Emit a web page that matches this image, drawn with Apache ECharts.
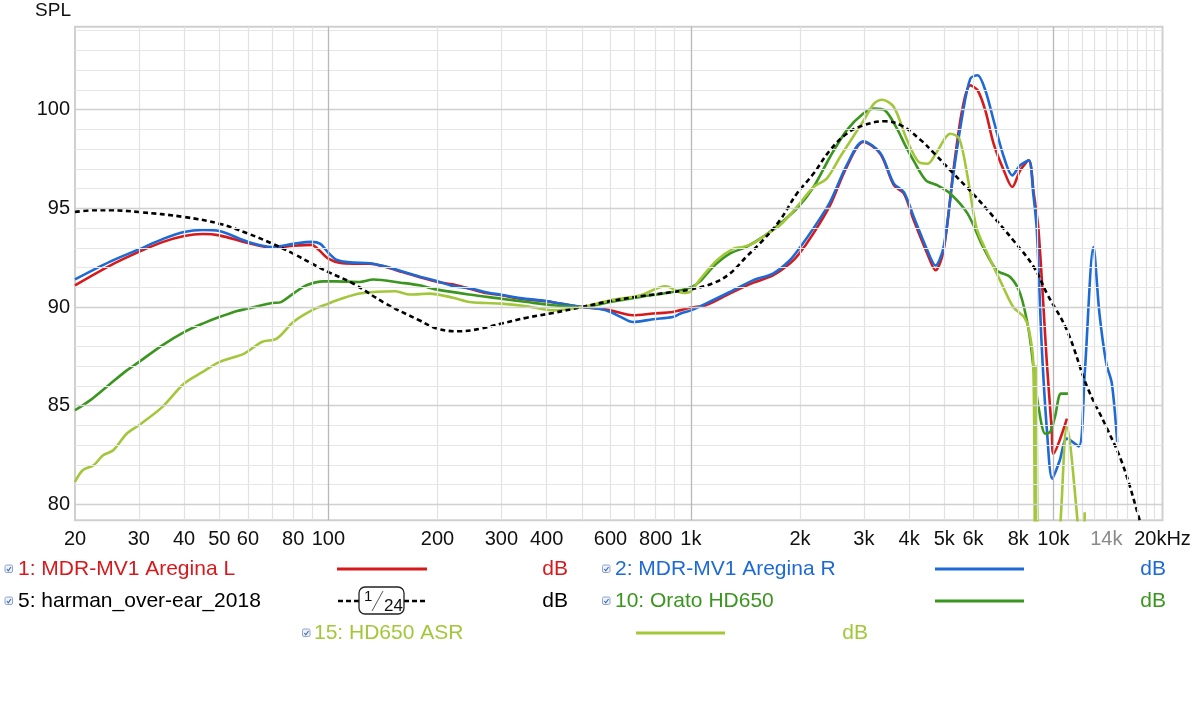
<!DOCTYPE html>
<html>
<head>
<meta charset="utf-8">
<script src="https://cdn.jsdelivr.net/npm/echarts@6/dist/echarts.min.js"></script>
<style>
html,body{margin:0;padding:0;background:#fff;}
#main{width:1200px;height:710px;}
</style>
</head>
<body>
<div id="main"></div>
<script>
// ---------- DATA ----------
// 1: MDR-MV1 Aregina L
const freqL = [20,25,30,35,40,45,50,60,70,80,90,94,100,108,117,130,144,160,178,200,220,245,272,300,338,400,436,500,562,600,692,786,891,1000,1100,1280,1483,1684,1875,1990,2176,2420,2690,2990,3330,3630,3870,4120,4490,4730,4980,5300,5600,5900,6180,6490,6840,7300,7700,8100,8550,8830,9100,9600,9900,10000,10900];
const splL  = [91.1,92.1,92.79,93.3,93.6,93.7,93.63,93.24,93.0,93.1,93.15,92.9,92.45,92.23,92.2,92.2,92.03,91.77,91.52,91.27,91.15,90.93,90.71,90.6,90.42,90.29,90.17,90.0,89.92,89.83,89.58,89.67,89.75,89.97,90.09,90.68,91.22,91.6,92.2,92.7,93.72,95.15,97.09,98.36,97.77,96.17,95.74,94.39,92.7,91.86,92.87,96.92,99.96,101.23,100.98,99.96,98.28,96.92,96.08,96.92,97.43,95.74,93.9,87.1,83.75,82.57,84.35];
// 2: MDR-MV1 Aregina R
const freqR = [20,25,30,35,40,45,50,60,70,80,90,95,100,105,110,117,130,144,160,178,200,220,245,272,300,338,400,436,500,562,600,640,692,786,891,937,1000,1100,1280,1483,1684,1875,1990,2176,2420,2690,2990,3330,3630,3870,4120,4490,4730,4980,5300,5600,5900,6180,6490,6840,7300,7700,8100,8550,8800,9000,9290,9600,9930,10400,10900,11750,12200,12900,13400,14000,14500,15000];
const splR  = [91.4,92.3,92.92,93.45,93.8,93.9,93.85,93.3,93.04,93.2,93.3,93.2,92.75,92.4,92.3,92.25,92.22,92.05,91.8,91.55,91.3,91.07,90.95,90.75,90.62,90.45,90.3,90.17,90.0,89.9,89.75,89.5,89.24,89.38,89.49,89.67,89.83,90.17,90.76,91.35,91.69,92.37,92.96,93.97,95.32,97.18,98.4,97.8,96.25,95.82,94.56,92.87,92.1,93.04,96.76,99.63,101.57,101.74,100.98,99.46,97.6,96.67,97.18,97.43,95.74,93.9,87.97,83.75,81.3,82.2,83.33,82.94,86.6,93.04,89.67,87.13,86.12,83.16];
// 5: harman_over-ear_2018
const freqH = [20,22.5,25,30,40,50,60,70,80,90,100,117,144,178,200,230,262,300,353,417,500,600,725,891,1000,1150,1280,1420,1580,1760,1960,2180,2420,2690,2990,3430,3800,4280,4700,5300,6000,6840,7750,8830,9600,10900,12400,14000,15500,17200,18000];
const splH  = [94.81,94.9,94.9,94.81,94.56,94.22,93.72,93.21,92.7,92.2,91.77,91.19,90.17,89.33,88.9,88.77,88.9,89.16,89.46,89.7,90.0,90.3,90.54,90.76,90.9,91.2,91.69,92.53,93.38,94.39,95.74,96.76,97.94,98.78,99.2,99.41,99.2,98.5,97.77,96.76,95.74,94.56,93.38,92.03,90.68,88.82,85.95,83.92,82.07,79.36,78.0];
// 10: Orato HD650
const freqG = [20,22,24.9,27.8,30,34.8,40,45,50,56,60,70,74,80,87,97,105,122,133,160,178,200,245,300,353,417,500,600,725,891,1000,1060,1150,1280,1420,1580,1760,1960,2180,2420,2690,2990,3200,3430,3700,3900,4120,4450,4780,5200,5800,6400,6980,7600,8100,8550,8830,9100,9500,9800,10100,10500,11000];
const splG  = [84.77,85.27,86.08,86.79,87.21,88.06,88.73,89.16,89.49,89.8,89.92,90.2,90.25,90.68,91.1,91.3,91.3,91.27,91.39,91.22,91.1,90.88,90.63,90.42,90.25,90.09,90.0,90.25,90.51,90.76,91.0,91.3,92.03,92.7,93.04,93.55,94.22,94.98,96.08,97.6,98.95,99.8,100.05,99.96,99.05,98.2,97.4,96.42,96.17,95.74,94.73,93.04,91.86,91.52,90.68,88.82,86.79,84.93,83.58,83.67,84.43,85.61,85.61];
// 15: HD650 ASR
const freqA = [20,21,22.5,23.9,25.5,27.8,30,34.8,40,45,50,58.6,65.5,72,80,90,100,108,122,153,168,190,221,245,272,300,353,417,500,600,725,850,955,1000,1060,1180,1310,1390,1480,1580,1760,1960,2180,2370,2580,2800,3000,3200,3370,3630,3950,4250,4500,4750,5200,5500,5800,6130,6580,7200,7750,8300,8550,8800,8900,8970,9200,10150,10900,11750,12050,12200];
const splA  = [81.14,81.73,81.98,82.49,82.74,83.59,84.01,84.93,86.12,86.71,87.21,87.64,88.23,88.4,89.24,89.83,90.17,90.4,90.68,90.8,90.63,90.68,90.47,90.25,90.2,90.17,90.04,89.83,90.0,90.34,90.59,91.05,90.71,90.8,91.4,92.37,92.96,93.04,93.21,93.55,94.14,95.07,96.08,96.5,97.6,98.61,99.46,100.3,100.5,100.13,98.44,97.35,97.26,97.8,98.78,98.53,96.59,94.05,92.7,91.18,90.0,89.49,88.9,87.2,77,87,76,76.5,83.9,78.5,76,79.6];

// axis ticks / labels
const xTickValues = [20,30,40,50,60,80,100,200,300,400,600,800,1000,2000,3000,4000,5000,6000,8000,10000,14000,20000];
const xTickLabels = ['20','30','40','50','60','80','100','200','300','400','600','800','1k','2k','3k','4k','5k','6k','8k','10k','14k','20kHz'];
const xGridMinor = [30,40,50,60,70,80,90,200,300,400,500,600,700,800,900,2000,3000,4000,5000,6000,7000,8000,9000,11000,12000,13000,14000,15000,16000,17000,18000,19000];
const xGridMajor = [100,1000,10000];
const yTickValues = [80,85,90,95,100];
const yGridMinor = [81,82,83,84,86,87,88,89,91,92,93,94,96,97,98,99,101,102,103,104];
const yGridMajor = [80,85,90,95,100];

const legendItems = [
  {label:'1: MDR-MV1 Aregina L', unit:'dB', color:'#d7191c'},
  {label:'2: MDR-MV1 Aregina R', unit:'dB', color:'#1d6ad6'},
  {label:'5: harman_over-ear_2018', unit:'dB', color:'#000000'},
  {label:'10: Orato HD650', unit:'dB', color:'#3b961f'},
  {label:'15: HD650 ASR', unit:'dB', color:'#a3c73a'}
];

// ---------- CHART ----------
const FONT = '"Liberation Sans", Arial, Helvetica, sans-serif';
const pairs = (f, v) => f.map((x, i) => [x, v[i]]);

const chart = echarts.init(document.getElementById('main'), null, {renderer:'canvas'});

function lineSeries(name, f, v, color, extra) {
  return Object.assign({
    name, type:'line', data: pairs(f, v), showSymbol:false, symbol:'none',
    smooth:0.3, clip:true, animation:false, silent:true,
    lineStyle:{color, width:2.6}, z:3
  }, extra || {});
}

const gridMarks = [];
xGridMinor.forEach(v => gridMarks.push({xAxis:v, lineStyle:{color:'#e2e2e2', width:1.2, type:'solid'}}));
yGridMinor.forEach(v => gridMarks.push({yAxis:v, lineStyle:{color:'#e6e6e6', width:1.2, type:'solid'}}));
yGridMajor.forEach(v => gridMarks.push({yAxis:v, lineStyle:{color:'#d0d0d0', width:1.3, type:'solid'}}));
xGridMajor.forEach(v => gridMarks.push({xAxis:v, lineStyle:{color:'#b8b8b8', width:1.3, type:'solid'}}));

// legend graphics
const graphics = [];
function checkbox(x, y) {
  graphics.push({type:'rect', shape:{x:x, y:y-4, width:7.5, height:7.5, r:1.5}, style:{fill:'#eef3fb', stroke:'#8ea6cc', lineWidth:1}});
  graphics.push({type:'polyline', shape:{points:[[x+1.8,y],[x+3.3,y+1.8],[x+6,y-2]]}, style:{stroke:'#3f66a8', lineWidth:1.1, fill:null}});
}
function text(x, y, str, color, align) {
  graphics.push({type:'text', x:x, y:y, style:{text:str, fill:color, font:'21px ' + FONT, textAlign:align||'left', textVerticalAlign:'middle'}});
}
function sample(x1, x2, y, color) {
  graphics.push({type:'line', shape:{x1, y1:y, x2, y2:y}, style:{stroke:color, lineWidth:3}});
}
const rowY = [569, 601, 633];
// item 1
checkbox(5, rowY[0]); text(18, rowY[0], legendItems[0].label, legendItems[0].color); sample(337, 427, rowY[0], legendItems[0].color); text(568, rowY[0], legendItems[0].unit, legendItems[0].color, 'right');
// item 2
checkbox(602.5, rowY[0]); text(615, rowY[0], legendItems[1].label, legendItems[1].color); sample(935, 1024, rowY[0], legendItems[1].color); text(1166, rowY[0], legendItems[1].unit, legendItems[1].color, 'right');
// item 5
checkbox(5, rowY[1]); text(18, rowY[1], legendItems[2].label, legendItems[2].color); text(568, rowY[1], legendItems[2].unit, legendItems[2].color, 'right');
graphics.push({type:'line', shape:{x1:338, y1:rowY[1], x2:359, y2:rowY[1]}, style:{stroke:'#000', lineWidth:2.6, lineDash:[5,3]}});
graphics.push({type:'line', shape:{x1:404, y1:rowY[1], x2:427, y2:rowY[1]}, style:{stroke:'#000', lineWidth:2.6, lineDash:[5,3]}});
graphics.push({type:'rect', shape:{x:359, y:587, width:45, height:27, r:6}, style:{fill:'#fff', stroke:'#222', lineWidth:1.3}});
graphics.push({type:'text', x:364, y:597, style:{text:'1', fill:'#111', font:'15px ' + FONT, textVerticalAlign:'middle'}});
graphics.push({type:'line', shape:{x1:372, y1:611, x2:383, y2:591}, style:{stroke:'#555', lineWidth:1}});
graphics.push({type:'text', x:384, y:606, style:{text:'24', fill:'#111', font:'17px ' + FONT, textVerticalAlign:'middle'}});
// item 10
checkbox(602.5, rowY[1]); text(615, rowY[1], legendItems[3].label, legendItems[3].color); sample(935, 1024, rowY[1], legendItems[3].color); text(1166, rowY[1], legendItems[3].unit, legendItems[3].color, 'right');
// item 15
checkbox(302.5, rowY[2]); text(314, rowY[2], legendItems[4].label, legendItems[4].color); sample(636, 725, rowY[2], legendItems[4].color); text(868, rowY[2], legendItems[4].unit, legendItems[4].color, 'right');

const option = {
  animation:false,
  backgroundColor:'#ffffff',
  grid:{left:75, right:37.5, top:26.7, bottom:189.8, show:true, borderColor:'#cfcfcf', borderWidth:2, backgroundColor:'transparent', containLabel:false, outerBoundsMode:'none'},
  xAxis:{
    type:'log', logBase:10, min:20, max:20000,
    axisLine:{show:false}, axisTick:{show:false}, splitLine:{show:false}, minorSplitLine:{show:false},
    axisLabel:{
      customValues:xTickValues, margin:9, fontSize:20, fontFamily:FONT, color:'#111',
      formatter:(v) => { const i = xTickValues.findIndex(t => Math.abs(t - v) < 1e-6 * t); const s = i >= 0 ? xTickLabels[i] : ''; return s === '14k' ? '{g|14k}' : s; },
      rich:{g:{color:'#8a8a8a', fontSize:20, fontFamily:FONT}}
    }
  },
  yAxis:{
    type:'value', min:79.2, max:104.2,
    name:'SPL', nameLocation:'end', nameGap:16,
    nameTextStyle:{fontSize:19, fontFamily:FONT, color:'#111', align:'right', verticalAlign:'middle', padding:[0,4,0,0]},
    axisLine:{show:false}, axisTick:{show:false}, splitLine:{show:false},
    axisLabel:{customValues:yTickValues, margin:5, fontSize:20, fontFamily:FONT, color:'#111'}
  },
  series:[
    {type:'line', name:'grid', data:[], silent:true, z:1,
     markLine:{silent:true, symbol:['none','none'], label:{show:false}, animation:false, emphasis:{disabled:true}, data:gridMarks}},
    lineSeries('1: MDR-MV1 Aregina L', freqL, splL, legendItems[0].color),
    lineSeries('2: MDR-MV1 Aregina R', freqR, splR, legendItems[1].color),
    lineSeries('10: Orato HD650', freqG, splG, legendItems[3].color),
    lineSeries('15: HD650 ASR', freqA, splA, legendItems[4].color),
    lineSeries('5: harman_over-ear_2018', freqH, splH, '#000000', {smooth:0.4, lineStyle:{color:'#000', width:2.6, type:[5,3.5]}, z:4})
  ],
  graphic:graphics
};
chart.setOption(option);
</script>
</body>
</html>
